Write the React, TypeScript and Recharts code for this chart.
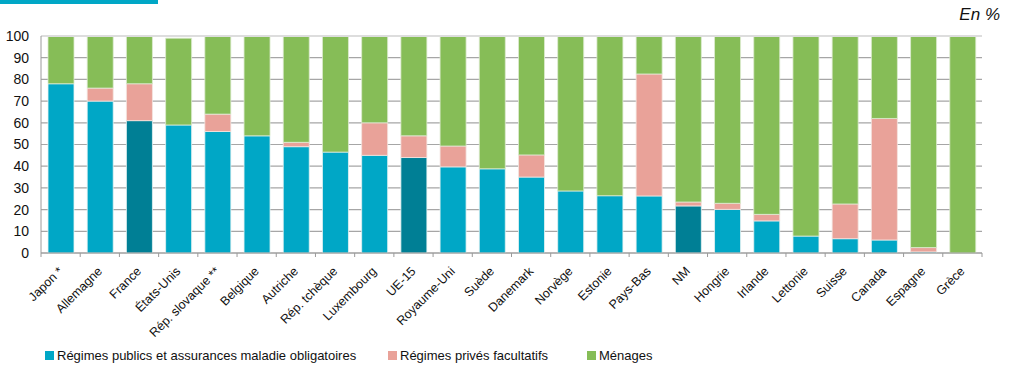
import React from "react";
import { BarChart, Bar, XAxis, YAxis, CartesianGrid, Cell, Legend, ReferenceLine } from "recharts";

const categories = [
  "Japon *", "Allemagne", "France", "États-Unis", "Rép. slovaque **", "Belgique", "Autriche",
  "Rép. tchèque", "Luxembourg", "UE-15", "Royaume-Uni", "Suède", "Danemark", "Norvège",
  "Estonie", "Pays-Bas", "NM", "Hongrie", "Irlande", "Lettonie", "Suisse", "Canada", "Espagne", "Grèce",
];
const publicVals = [78, 70, 61, 59, 56, 54, 49, 46.5, 45, 44, 39.7, 38.8, 35, 28.6, 26.4, 26.3, 21.7, 20.1, 14.8, 7.8, 6.6, 6, 0.5, 0];
const privateVals = [0, 6, 17, 0, 8, 0, 2, 0, 15, 10, 9.6, 0, 10.2, 0, 0, 56.2, 1.8, 2.8, 3, 0, 16, 56, 2, 0];
const householdVals = [22, 24, 22, 40, 36, 46, 49, 53.5, 40, 46, 50.7, 61.2, 54.8, 71.4, 73.6, 17.5, 76.5, 77.1, 82.2, 92.2, 77.4, 38, 97.5, 100];
const highlighted = ["France", "UE-15", "NM"];
const yTicks = [0, 10, 20, 30, 40, 50, 60, 70, 80, 90, 100];
const seriesNames = [
  "Régimes publics et assurances maladie obligatoires",
  "Régimes privés facultatifs",
  "Ménages",
];

const COL_PUBLIC = "#00A7C6";
const COL_PUBLIC_DARK = "#007F95";
const COL_PRIVATE = "#E9A299";
const COL_HOUSE = "#86BD57";
const FONT = "'Liberation Sans', Arial, sans-serif";

const data = categories.map((c, i) => ({
  name: c,
  pub: publicVals[i],
  priv: privateVals[i],
  hh: householdVals[i],
}));

const CHART_W = 1009;
const CHART_H = 367;
const MARGIN = { top: 36, right: 27, left: 0, bottom: 0 };
const Y_W = 41;
const PLOT_W = CHART_W - MARGIN.right - Y_W;
const STEP = PLOT_W / categories.length;

const XTick = (props: any) => {
  const { x, y, payload, index } = props;
  const ax = x + 3;
  const ay = y + 19;
  return (
    <g>
      <line x1={x - STEP / 2} x2={x - STEP / 2} y1={y} y2={y + 4} stroke="#9A9A9A" strokeWidth={1} />
      {index === categories.length - 1 && (
        <line x1={x + STEP / 2} x2={x + STEP / 2} y1={y} y2={y + 4} stroke="#9A9A9A" strokeWidth={1} />
      )}
      <text
        x={ax}
        y={ay}
        textAnchor="end"
        fontSize={12.5}
        fontFamily={FONT}
        fill="#111"
        transform={`rotate(-45, ${ax}, ${ay})`}
      >
        {payload.value}
      </text>
    </g>
  );
};

const LegendContent = () => {
  const items = [
    { label: seriesNames[0], color: COL_PUBLIC, left: 45 },
    { label: seriesNames[1], color: COL_PRIVATE, left: 388 },
    { label: seriesNames[2], color: COL_HOUSE, left: 587 },
  ];
  return (
    <div style={{ position: "relative", height: 30, fontFamily: FONT, fontSize: 13, color: "#111" }}>
      {items.map((it) => (
        <div key={it.label} style={{ position: "absolute", left: it.left, top: 11, display: "flex", alignItems: "center", whiteSpace: "nowrap" }}>
          <span style={{ display: "inline-block", width: 9, height: 9, background: it.color, marginRight: 3 }} />
          <span>{it.label}</span>
        </div>
      ))}
    </div>
  );
};

export default function App() {
  return (
    <div style={{ position: "fixed", left: 0, top: 0, width: CHART_W, height: CHART_H, background: "#fff" }}>
      <div style={{ position: "absolute", left: 0, top: 0, width: 158, height: 4, background: COL_PUBLIC }} />
      <div
        style={{
          position: "absolute",
          right: 9,
          top: 5,
          fontFamily: FONT,
          fontStyle: "italic",
          fontSize: 17,
          color: "#111",
        }}
      >
        En %
      </div>
      <BarChart width={CHART_W} height={CHART_H} data={data} margin={MARGIN} barSize={26}>
        <CartesianGrid vertical={false} stroke="#A6A6A6" strokeWidth={1.2} />
        <XAxis
          dataKey="name"
          interval={0}
          height={84}
          tickLine={false}
          tickSize={0}
          tickMargin={0}
          axisLine={{ stroke: "#9A9A9A" }}
          tick={<XTick />}
        />
        <YAxis
          width={Y_W}
          domain={[0, 100]}
          ticks={yTicks}
          interval={0}
          tickLine={false}
          axisLine={{ stroke: "#9A9A9A" }}
          tick={{ fontSize: 14, fontFamily: FONT, fill: "#111" }}
          tickMargin={6}
        />
        <ReferenceLine y={100} stroke="#DDDDDD" strokeWidth={2} />
        <Legend verticalAlign="bottom" height={30} content={<LegendContent />} />
        <Bar dataKey="pub" stackId="a" name={seriesNames[0]} isAnimationActive={false} stroke="#E6F2F2" strokeWidth={0.8}>
          {data.map((d) => (
            <Cell key={d.name} fill={highlighted.includes(d.name) ? COL_PUBLIC_DARK : COL_PUBLIC} />
          ))}
        </Bar>
        <Bar dataKey="priv" stackId="a" name={seriesNames[1]} fill={COL_PRIVATE} isAnimationActive={false} stroke="#F4E4E0" strokeWidth={0.8} />
        <Bar dataKey="hh" stackId="a" name={seriesNames[2]} fill={COL_HOUSE} isAnimationActive={false} stroke="#DDEBD0" strokeWidth={0.8} />
      </BarChart>
    </div>
  );
}
